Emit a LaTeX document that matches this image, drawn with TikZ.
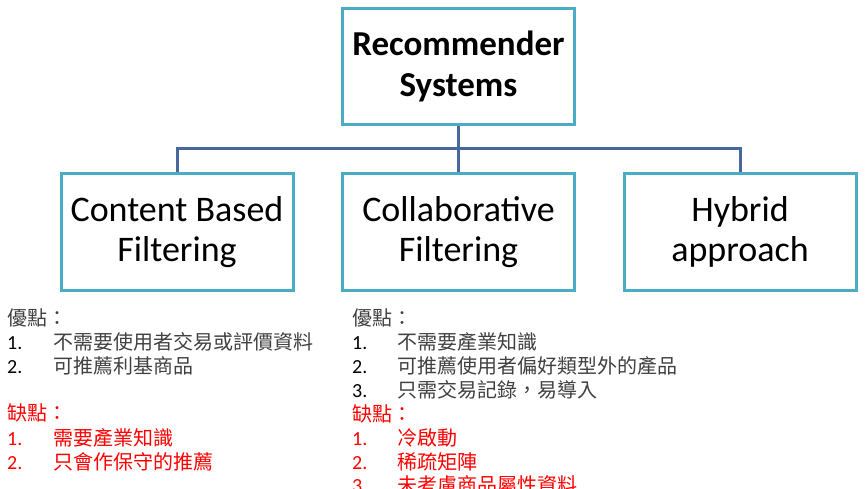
\documentclass[tikz,border=0pt]{standalone}
\usepackage{fontspec}
\setmainfont{Carlito}
\newfontfamily\cjk{Noto Sans CJK TC}
\definecolor{boxblue}{HTML}{4BACC6}
\definecolor{connblue}{HTML}{46699C}
\definecolor{txtgray}{HTML}{404040}
\definecolor{txtred}{HTML}{FF0000}
\tikzset{
  catbox/.style={draw=boxblue, line width=3pt, minimum width=232pt, minimum height=117pt,
    inner sep=0pt, align=center, font=\fontsize{36}{40}\selectfont},
  rootbox/.style={catbox, minimum height=116pt, font=\bfseries\fontsize{35}{41}\selectfont},
  conn/.style={draw=connblue, line width=3pt},
  numtxt/.style={anchor=base west, inner sep=0pt, font=\fontsize{20}{24}\selectfont},
  cjktxt/.style={anchor=base west, inner sep=0pt, text=txtgray, font=\cjk\fontsize{20}{24}\selectfont},
  rednum/.style={numtxt, text=txtred},
  redtxt/.style={cjktxt, text=txtred},
}
\begin{document}
\begin{tikzpicture}[x=1pt,y=-1pt]
\useasboundingbox (0,0) rectangle (867,489);
\clip (0,0) rectangle (867,489);
% boxes
\node[rootbox] (root) at (458.5,66.5) {Recommender\\Systems};
\node[catbox] (cbf) at (177,232) {Content Based\\Filtering};
\node[catbox] (cf) at (458.5,232) {Collaborative\\Filtering};
\node[catbox] (hyb) at (740,232) {Hybrid\\approach};
% connectors
\draw[conn] (root.south) -- (cf.north);
\draw[conn] (cbf.north) -- ++(0,-23.5) -| (hyb.north);
% left column
\node[cjktxt] (lh1) at (7,325) {優點：};
\node[numtxt] (ln1) at (7,349.5) {1.};
\node[cjktxt] (lt1) at (53,349.5) {不需要使用者交易或評價資料};
\node[numtxt] (ln2) at (7,373.5) {2.};
\node[cjktxt] (lt2) at (53,373.5) {可推薦利基商品};
\node[redtxt] (lh2) at (7,420.5) {缺點：};
\node[rednum] (ln3) at (7,445.5) {1.};
\node[redtxt] (lt3) at (53,445.5) {需要產業知識};
\node[rednum] (ln4) at (7,469.5) {2.};
\node[redtxt] (lt4) at (53,469.5) {只會作保守的推薦};
% right column
\node[cjktxt] (rh1) at (352,325) {優點：};
\node[numtxt] (rn1) at (352,349.5) {1.};
\node[cjktxt] (rt1) at (397,349.5) {不需要產業知識};
\node[numtxt] (rn2) at (352,373.5) {2.};
\node[cjktxt] (rt2) at (397,373.5) {可推薦使用者偏好類型外的產品};
\node[numtxt] (rn3) at (352,397) {3.};
\node[cjktxt] (rt3) at (397,397) {只需交易記錄，易導入};
\node[redtxt] (rh2) at (352,421) {缺點：};
\node[rednum] (rn4) at (352,445) {1.};
\node[redtxt] (rt4) at (397,445) {冷啟動};
\node[rednum] (rn5) at (352,469) {2.};
\node[redtxt] (rt5) at (397,469) {稀疏矩陣};
\node[rednum] (rn6) at (352,492) {3.};
\node[redtxt] (rt6) at (397,492) {未考慮商品屬性資料};
\end{tikzpicture}
\end{document}
